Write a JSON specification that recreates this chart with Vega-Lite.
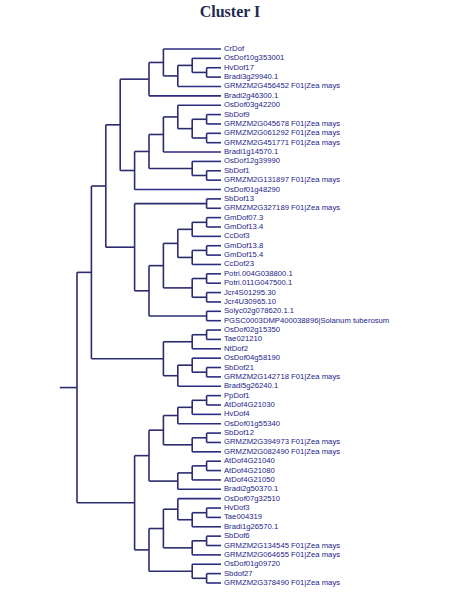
{
  "$schema": "https://vega.github.io/schema/vega-lite/v6.json",
  "width": 450,
  "height": 600,
  "autosize": {"type": "none"},
  "padding": 0,
  "background": "white",
  "view": {"stroke": null},
  "datasets": {
    "nodes": [
      {"n":"E","d":9,"y":3.5,"p":8,"lo":3,"hi":4},
      {"n":"D","d":8,"y":2.75,"p":7,"lo":2,"hi":3.5},
      {"n":"C","d":7,"y":3.875,"p":6,"lo":2.75,"hi":5},
      {"n":"B","d":6,"y":2.4375,"p":5,"lo":1,"hi":3.875},
      {"n":"A","d":5,"y":4.21875,"p":3,"lo":2.4375,"hi":6},
      {"n":"H","d":9,"y":8.5,"p":8,"lo":8,"hi":9},
      {"n":"J","d":9,"y":10.5,"p":8,"lo":10,"hi":11},
      {"n":"I","d":8,"y":9.5,"p":7,"lo":8.5,"hi":10.5},
      {"n":"K","d":7,"y":8.25,"p":6,"lo":7,"hi":9.5},
      {"n":"L","d":6,"y":10.125,"p":5,"lo":8.25,"hi":12},
      {"n":"M","d":9,"y":14.5,"p":8,"lo":14,"hi":15},
      {"n":"N","d":8,"y":13.75,"p":5,"lo":13,"hi":14.5},
      {"n":"O","d":5,"y":11.9375,"p":4,"lo":10.125,"hi":13.75},
      {"n":"G","d":4,"y":13.96875,"p":3,"lo":11.9375,"hi":16},
      {"n":"F","d":3,"y":9.09375,"p":2,"lo":4.21875,"hi":13.96875},
      {"n":"R","d":9,"y":17.5,"p":4,"lo":17,"hi":18},
      {"n":"Z1","d":9,"y":19.5,"p":8,"lo":19,"hi":20},
      {"n":"Z2","d":8,"y":20.25,"p":7,"lo":19.5,"hi":21},
      {"n":"Z3","d":9,"y":22.5,"p":8,"lo":22,"hi":23},
      {"n":"Z4","d":8,"y":23.25,"p":7,"lo":22.5,"hi":24},
      {"n":"Y","d":7,"y":21.75,"p":6,"lo":20.25,"hi":23.25},
      {"n":"W","d":9,"y":25.5,"p":8,"lo":25,"hi":26},
      {"n":"X","d":9,"y":27.5,"p":8,"lo":27,"hi":28},
      {"n":"V","d":8,"y":26.5,"p":6,"lo":25.5,"hi":27.5},
      {"n":"U","d":6,"y":24.125,"p":5,"lo":21.75,"hi":26.5},
      {"n":"T","d":9,"y":29.5,"p":5,"lo":29,"hi":30},
      {"n":"S","d":5,"y":26.8125,"p":4,"lo":24.125,"hi":29.5},
      {"n":"Q","d":4,"y":22.15625,"p":2,"lo":17.5,"hi":26.8125},
      {"n":"P","d":2,"y":15.625,"p":1,"lo":9.09375,"hi":22.15625},
      {"n":"CC","d":9,"y":31.5,"p":8,"lo":31,"hi":32},
      {"n":"BB","d":8,"y":32.25,"p":6,"lo":31.5,"hi":33},
      {"n":"EE","d":9,"y":35.5,"p":8,"lo":35,"hi":36},
      {"n":"FF","d":8,"y":34.75,"p":7,"lo":34,"hi":35.5},
      {"n":"DD","d":7,"y":35.875,"p":6,"lo":34.75,"hi":37},
      {"n":"AA","d":6,"y":34.0625,"p":1,"lo":32.25,"hi":35.875},
      {"n":"P2","d":1,"y":24.84375,"p":0,"lo":15.625,"hi":34.0625},
      {"n":"RR","d":9,"y":38.5,"p":8,"lo":38,"hi":39},
      {"n":"SS","d":8,"y":39.25,"p":7,"lo":38.5,"hi":40},
      {"n":"TT","d":7,"y":40.125,"p":6,"lo":39.25,"hi":41},
      {"n":"WW","d":9,"y":42.5,"p":8,"lo":42,"hi":43},
      {"n":"VV","d":8,"y":43.25,"p":6,"lo":42.5,"hi":44},
      {"n":"UU","d":6,"y":41.6875,"p":5,"lo":40.125,"hi":43.25},
      {"n":"ZZ","d":9,"y":45.5,"p":8,"lo":45,"hi":46},
      {"n":"YY","d":8,"y":46.25,"p":7,"lo":45.5,"hi":47},
      {"n":"XX","d":7,"y":47.125,"p":5,"lo":46.25,"hi":48},
      {"n":"HH","d":5,"y":44.40625,"p":4,"lo":41.6875,"hi":47.125},
      {"n":"QQ","d":9,"y":50.5,"p":8,"lo":50,"hi":51},
      {"n":"PP","d":8,"y":51.25,"p":7,"lo":50.5,"hi":52},
      {"n":"MM","d":7,"y":50.125,"p":6,"lo":49,"hi":51.25},
      {"n":"OO","d":9,"y":53.5,"p":8,"lo":53,"hi":54},
      {"n":"NN","d":8,"y":54.25,"p":6,"lo":53.5,"hi":55},
      {"n":"JJ","d":6,"y":52.1875,"p":5,"lo":50.125,"hi":54.25},
      {"n":"LL","d":9,"y":57.5,"p":8,"lo":57,"hi":58},
      {"n":"KK","d":8,"y":56.75,"p":5,"lo":56,"hi":57.5},
      {"n":"II","d":5,"y":54.46875,"p":4,"lo":52.1875,"hi":56.75},
      {"n":"GG","d":4,"y":49.4375,"p":0,"lo":44.40625,"hi":54.46875},
      {"n":"Root","d":0,"y":37.140625,"p":-1.2,"lo":24.84375,"hi":49.4375}
    ],
    "leaves": [
      {"i":1,"name":"CrDof","p":6},
      {"i":2,"name":"OsDof10g353001","p":8},
      {"i":3,"name":"HvDof17","p":9},
      {"i":4,"name":"Bradi3g29940.1","p":9},
      {"i":5,"name":"GRMZM2G456452 F01|Zea mays","p":7},
      {"i":6,"name":"Bradi2g46300.1","p":5},
      {"i":7,"name":"OsDof03g42200","p":7},
      {"i":8,"name":"SbDof9","p":9},
      {"i":9,"name":"GRMZM2G045678 F01|Zea mays","p":9},
      {"i":10,"name":"GRMZM2G061292 F01|Zea mays","p":9},
      {"i":11,"name":"GRMZM2G451771 F01|Zea mays","p":9},
      {"i":12,"name":"Bradi1g14570.1","p":6},
      {"i":13,"name":"OsDof12g39990","p":8},
      {"i":14,"name":"SbDof1","p":9},
      {"i":15,"name":"GRMZM2G131897 F01|Zea mays","p":9},
      {"i":16,"name":"OsDof01g48290","p":4},
      {"i":17,"name":"SbDof13","p":9},
      {"i":18,"name":"GRMZM2G327189 F01|Zea mays","p":9},
      {"i":19,"name":"GmDof07.3","p":9},
      {"i":20,"name":"GmDof13.4","p":9},
      {"i":21,"name":"CcDof3","p":8},
      {"i":22,"name":"GmDof13.8","p":9},
      {"i":23,"name":"GmDof15.4","p":9},
      {"i":24,"name":"CcDof23","p":8},
      {"i":25,"name":"Potri.004G038800.1","p":9},
      {"i":26,"name":"Potri.011G047500.1","p":9},
      {"i":27,"name":"Jcr4S01295.30","p":9},
      {"i":28,"name":"Jcr4U30965.10","p":9},
      {"i":29,"name":"Solyc02g078620.1.1","p":9},
      {"i":30,"name":"PGSC0003DMP400038896|Solanum tuberosum","p":9},
      {"i":31,"name":"OsDof02g15350","p":9},
      {"i":32,"name":"Tae021210","p":9},
      {"i":33,"name":"NtDof2","p":8},
      {"i":34,"name":"OsDof04g58190","p":8},
      {"i":35,"name":"SbDof21","p":9},
      {"i":36,"name":"GRMZM2G142718 F01|Zea mays","p":9},
      {"i":37,"name":"Bradi5g26240.1","p":7},
      {"i":38,"name":"PpDof1","p":9},
      {"i":39,"name":"AtDof4G21030","p":9},
      {"i":40,"name":"HvDof4","p":8},
      {"i":41,"name":"OsDof01g55340","p":7},
      {"i":42,"name":"SbDof12","p":9},
      {"i":43,"name":"GRMZM2G394973 F01|Zea mays","p":9},
      {"i":44,"name":"GRMZM2G082490 F01|Zea mays","p":8},
      {"i":45,"name":"AtDof4G21040","p":9},
      {"i":46,"name":"AtDof4G21080","p":9},
      {"i":47,"name":"AtDof4G21050","p":8},
      {"i":48,"name":"Bradi2g50370.1","p":7},
      {"i":49,"name":"OsDof07g32510","p":7},
      {"i":50,"name":"HvDof3","p":9},
      {"i":51,"name":"Tae004319","p":9},
      {"i":52,"name":"Bradi1g26570.1","p":8},
      {"i":53,"name":"SbDof6","p":9},
      {"i":54,"name":"GRMZM2G134545 F01|Zea mays","p":9},
      {"i":55,"name":"GRMZM2G064655 F01|Zea mays","p":8},
      {"i":56,"name":"OsDof01g09720","p":8},
      {"i":57,"name":"Sbdof27","p":9},
      {"i":58,"name":"GRMZM2G378490 F01|Zea mays","p":9}
    ]
  },
  "layer": [
    {
      "data": {"name": "nodes"},
      "mark": {"type": "rule", "color": "#2b2b6e", "strokeWidth": 1.6},
      "encoding": {
        "x": {"field": "p", "type": "quantitative", "scale": {"domain": [-5.347, 25.903], "nice": false, "zero": false}, "axis": null},
        "x2": {"field": "d"},
        "y": {"field": "y", "type": "quantitative", "scale": {"domain": [-4.231, 59.817], "reverse": true, "nice": false, "zero": false}, "axis": null}
      }
    },
    {
      "data": {"name": "nodes"},
      "mark": {"type": "rule", "color": "#2b2b6e", "strokeWidth": 1.6},
      "encoding": {
        "x": {"field": "d", "type": "quantitative"},
        "y": {"field": "lo", "type": "quantitative"},
        "y2": {"field": "hi"}
      }
    },
    {
      "data": {"name": "leaves"},
      "mark": {"type": "rule", "color": "#2b2b80", "strokeWidth": 1.6},
      "encoding": {
        "x": {"field": "p", "type": "quantitative"},
        "x2": {"datum": 10},
        "y": {"field": "i", "type": "quantitative"}
      }
    },
    {
      "data": {"name": "leaves"},
      "mark": {"type": "text", "align": "left", "baseline": "middle", "dx": 3, "font": "Liberation Sans", "fontSize": 7.7, "color": "#24248a"},
      "encoding": {
        "x": {"datum": 10, "type": "quantitative"},
        "y": {"field": "i", "type": "quantitative"},
        "text": {"field": "name"}
      }
    },
    {
      "data": {"values": [{}]},
      "mark": {"type": "text", "align": "center", "baseline": "alphabetic", "font": "Liberation Serif", "fontSize": 16, "fontWeight": "bold", "color": "#1f2a4f"},
      "encoding": {
        "x": {"datum": 10.625, "type": "quantitative"},
        "y": {"datum": -2.416, "type": "quantitative"},
        "text": {"value": "Cluster I"}
      }
    }
  ]
}
